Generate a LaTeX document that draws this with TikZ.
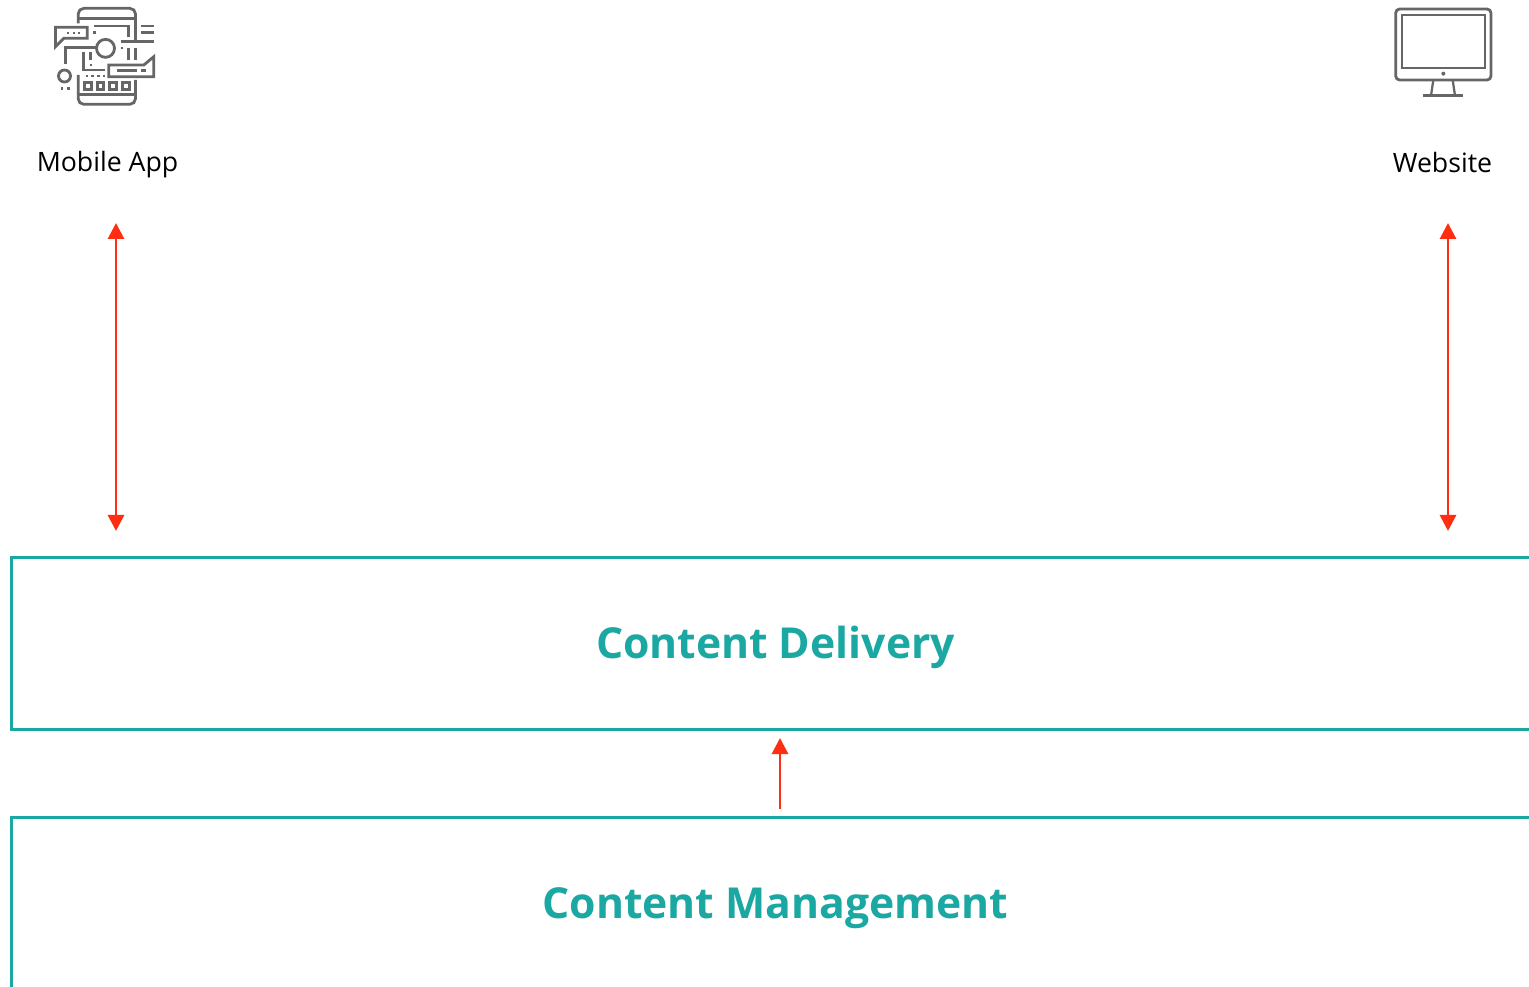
\documentclass[tikz,border=0pt]{standalone}
\usepackage{fontspec}
\setmainfont{Open Sans}
\usetikzlibrary{arrows.meta}
\definecolor{tealbox}{HTML}{1BA8A3}
\definecolor{redarrow}{HTML}{FF2E12}
\definecolor{icongray}{HTML}{666666}
\tikzset{
  layerbox/.style={draw=tealbox,line width=2.05pt,fill=white,minimum width=1146pt,minimum height=129pt,inner sep=0pt,
    text=tealbox,text height=30pt,text depth=6.8pt,font=\fontsize{32}{38}\selectfont\bfseries},
  caption/.style={font=\fontsize{20}{25}\selectfont,text=black,inner sep=0pt},
  flow/.style={draw=redarrow,line width=2.2pt},
  tipup/.style={-{Triangle[length=12pt,width=12pt,color=redarrow]}},
  tipboth/.style={{Triangle[length=12pt,width=12pt,color=redarrow]}-{Triangle[length=12pt,width=12pt,color=redarrow]}},
  iconline/.style={draw=icongray,line width=2.1pt,fill=none}
}
\begin{document}
\begin{tikzpicture}[x=0.75pt,y=-0.75pt]
\useasboundingbox (0,0) rectangle (1529,987);
\clip (0,0) rectangle (1529,987);
\node[layerbox] (delivery) at (775.5,643.5) {Content Delivery};
\node[layerbox] (management) at (775.5,903.5) {Content Management};
\node[caption] (mobile) at (107.5,165) {Mobile App};
\node[caption] (website) at (1442.5,163) {Website};
\coordinate (mobileTop) at (116,223);
\coordinate (mobileBot) at (116,531);
\coordinate (webTop) at (1448,223);
\coordinate (webBot) at (1448,531);
\coordinate (midTop) at (780,738);
\coordinate (midBot) at (780,809);
\draw[flow,tipboth] (mobileTop) -- (mobileBot);
\draw[flow,tipboth] (webTop) -- (webBot);
\draw[flow,tipup] (midBot) -- (midTop);
% phone icon
\begin{scope}[shift={(40.5,0)},x=0.25pt,y=-0.25pt]
\draw[iconline] (113,70) -- (113,42) arc[start angle=180,end angle=90,x radius=17,y radius=-17] -- (268,25) arc[start angle=90,end angle=0,x radius=17,y radius=-17] -- (285,125);
\draw[iconline] (113,55) -- (285,55);
\draw[iconline] (300,78) -- (340,78) (300,97) -- (340,97);
\draw[iconline,line join=miter] (45,82) -- (140,82) -- (140,115) -- (70,115) -- (45,140) -- cycle;
\draw[iconline] (160,78) -- (265,78) -- (265,110);
\fill[icongray] (157,94) rectangle +(8,8);
\foreach \x in {78,96,112} \fill[icongray] (\x,95) rectangle +(7,7);
\draw[iconline] (195,145) circle[radius=27];
\draw[iconline] (240,125) -- (340,125);
\fill[icongray] (240,140) rectangle +(7,7);
\draw[iconline] (265,143) -- (265,180) (285,143) -- (285,180);
\draw[iconline] (167,143) -- (75,143) -- (75,192);
\draw[iconline] (72,228) circle[radius=18];
\fill[icongray] (60,262) rectangle +(8,8);
\fill[icongray] (80,262) rectangle +(8,8);
\draw[iconline] (130,155) -- (130,210) -- (192,210);
\draw[iconline] (150,155) -- (150,180);
\fill[icongray] (147,192) rectangle +(7,7);
\draw[iconline,line join=miter] (205,195) -- (310,195) -- (340,170) -- (340,230) -- (205,230) -- cycle;
\draw[iconline] (230,212) -- (290,212) (300,212) -- (316,212);
\foreach \x in {135,152,170,187} \fill[icongray] (\x,226) rectangle +(7,6);
\foreach \x in {132,170,208,246} \draw[iconline] (\x,248) rectangle +(20,20);
\draw[iconline] (113,225) -- (113,296) arc[start angle=180,end angle=270,x radius=17,y radius=-17] -- (268,313) arc[start angle=270,end angle=360,x radius=17,y radius=-17] -- (285,240);
\draw[iconline] (113,283) -- (285,283);
\end{scope}
% monitor icon
\begin{scope}[shift={(1380,0)},x=0.25pt,y=-0.25pt]
\draw[iconline,rounded corners=3pt] (47,27) rectangle (333,240);
\draw[iconline,line width=1.7pt] (65,44) rectangle (315,204);
\fill[icongray] (190,221) circle[radius=6];
\draw[iconline,line width=1.7pt] (160,240) -- (153,287) (218,240) -- (225,287);
\draw[iconline] (130,287) -- (250,287);
\end{scope}
\end{tikzpicture}
\end{document}
